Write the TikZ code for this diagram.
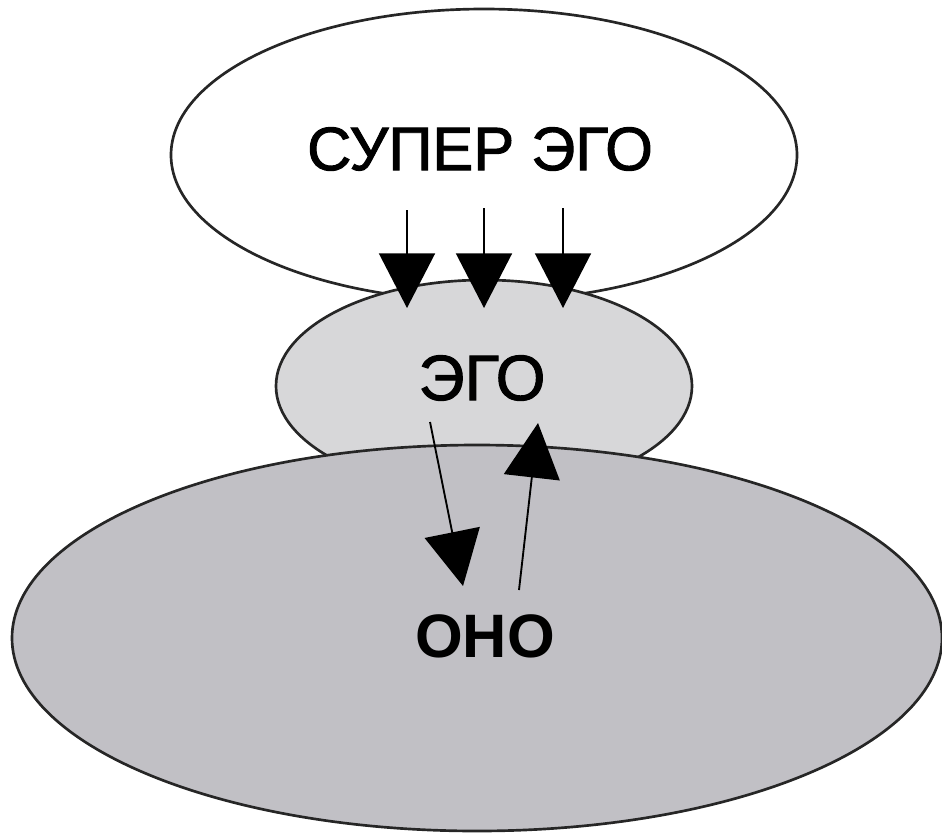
\documentclass[tikz,border=0pt]{standalone}
\usepackage{fontspec}
\setmainfont{Liberation Sans}
\newfontfamily\heavysans[FakeBold=1.6]{Liberation Sans}
\usetikzlibrary{shapes.geometric,arrows.meta}
\definecolor{egogray}{HTML}{D7D7D9}
\definecolor{idgray}{HTML}{C1C0C5}
\tikzset{
  psyche/.style={draw=black!85, line width=2pt, ellipse, inner sep=0pt},
  bigtext/.style={font=\heavysans\fontsize{46}{50}\selectfont},
  flow/.style={line width=1.4pt, -{Triangle[length=41pt,width=42pt]}}
}
\begin{document}
\begin{tikzpicture}[x=0.75pt,y=-0.75pt]
\useasboundingbox (0,0) rectangle (942,836);
\node[psyche, fill=white, minimum width=626*0.75pt, minimum height=292*0.75pt] (superego) at (484,155) {};
\node[bigtext] (superegotext) at (480,149) {СУПЕР ЭГО};
\node[psyche, fill=egogray, minimum width=416*0.75pt, minimum height=212*0.75pt] (ego) at (484,386) {};
\node[bigtext, font=\heavysans\fontsize{48}{52}\selectfont] (egotext) at (482,378) {ЭГО};
\node[psyche, fill=idgray, minimum width=930*0.75pt, minimum height=386*0.75pt] (id) at (477,638) {};
\node[font=\fontsize{46}{50}\selectfont\bfseries] (idtext) at (485,636) {ОНО};
% down arrows from super-ego to ego
\coordinate (s1) at (407,210); \coordinate (e1) at (407,308);
\coordinate (s2) at (484,208); \coordinate (e2) at (484,308);
\coordinate (s3) at (563,208); \coordinate (e3) at (563,308);
\draw[flow] (s1) -- (e1);
\draw[flow] (s2) -- (e2);
\draw[flow] (s3) -- (e3);
% ego <-> id
\coordinate (d1) at (430,422); \coordinate (d2) at (463,586);
\coordinate (u1) at (519,590); \coordinate (u2) at (538,423);
\draw[flow] (d1) -- (d2);
\draw[flow] (u1) -- (u2);
\end{tikzpicture}
\end{document}
